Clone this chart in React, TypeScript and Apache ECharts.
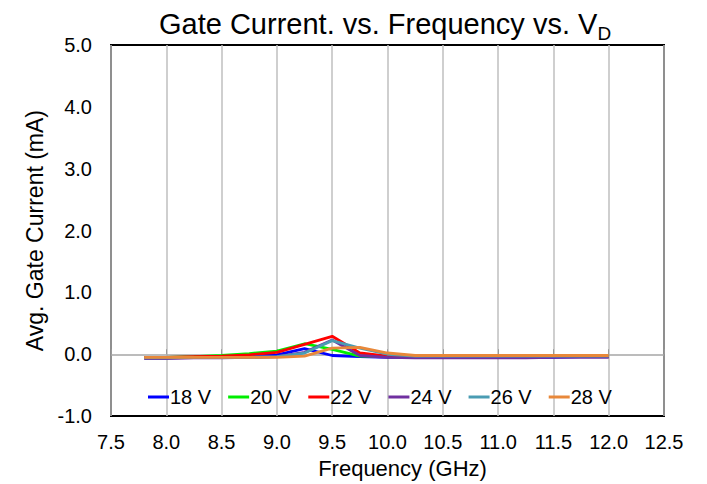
import React, { useEffect, useRef } from "react";
import * as echarts from "echarts";

const freqs = [7.8, 8.0, 8.25, 8.5, 8.75, 9.0, 9.25, 9.5, 9.75, 10.0, 10.25, 10.5, 10.75, 11.0, 11.25, 11.5, 11.75, 12.0];
const v18 = [-0.05, -0.05, -0.05, -0.04, -0.03, -0.01, 0.09, -0.02, -0.04, -0.05, -0.05, -0.05, -0.05, -0.05, -0.05, -0.05, -0.04, -0.04];
const v20 = [-0.05, -0.05, -0.04, -0.02, 0.01, 0.05, 0.17, 0.08, -0.03, -0.04, -0.05, -0.05, -0.04, -0.04, -0.04, -0.04, -0.03, -0.03];
const v22 = [-0.05, -0.05, -0.04, -0.03, -0.01, 0.03, 0.16, 0.29, 0.02, -0.03, -0.05, -0.05, -0.05, -0.05, -0.04, -0.04, -0.04, -0.04];
const v24 = [-0.07, -0.07, -0.06, -0.06, -0.05, -0.04, 0.03, 0.23, -0.02, -0.05, -0.06, -0.06, -0.06, -0.06, -0.06, -0.05, -0.05, -0.05];
const v26 = [-0.06, -0.06, -0.05, -0.05, -0.05, -0.04, 0.02, 0.22, 0.1, 0.0, -0.03, -0.03, -0.03, -0.03, -0.03, -0.03, -0.03, -0.03];
const v28 = [-0.05, -0.05, -0.05, -0.05, -0.05, -0.05, -0.03, 0.1, 0.11, 0.02, -0.02, -0.02, -0.02, -0.02, -0.02, -0.02, -0.02, -0.02];

const seriesNames = ["18 V", "20 V", "22 V", "24 V", "26 V", "28 V"];
const seriesData = [v18, v20, v22, v24, v26, v28];
const colors = ["#0000FF", "#00EE00", "#FF0000", "#7030A0", "#4A9CB3", "#E8883A"];

export default function App() {
  const ref = useRef<HTMLDivElement>(null);
  useEffect(() => {
    if (!ref.current) return;
    const chart = echarts.init(ref.current, undefined, { renderer: "svg" });
    const font = "'Liberation Sans', Arial, sans-serif";
    chart.setOption({
      animation: false,
      textStyle: { fontFamily: font },
      title: {
        text: "{a|Gate Current. vs. Frequency vs. V}{s|D}",
        left: 159,
        top: 2,
        padding: 0,
        textStyle: {
          fontWeight: "normal",
          rich: {
            a: { fontSize: 29, fontWeight: "normal", fontFamily: font, color: "#000", lineHeight: 36, verticalAlign: "bottom" },
            s: { fontSize: 19, fontWeight: "normal", fontFamily: font, color: "#000", lineHeight: 36, verticalAlign: "bottom", padding: [0, 0, -5, 0] },
          },
        },
      },
      legend: {
        top: 382,
        left: 143,
        itemWidth: 21,
        itemHeight: 3,
        itemGap: 17,
        icon: "rect",
        textStyle: { fontSize: 20, fontFamily: font, color: "#000", padding: [0, 0, 0, -4] },
        data: seriesNames,
      },
      grid: { left: 111, right: 43, top: 45, bottom: 67, show: true, borderColor: "#000", borderWidth: 2, backgroundColor: "transparent" },
      xAxis: {
        type: "value",
        min: 7.5,
        max: 12.5,
        interval: 0.5,
        name: "Frequency (GHz)",
        nameLocation: "middle",
        nameGap: 38,
        nameTextStyle: { fontSize: 22, color: "#000", fontFamily: font, padding: [0, 0, 0, 30] },
        axisLine: { show: false },
        axisTick: { show: true, inside: true, length: 5, lineStyle: { color: "#999" } },
        axisLabel: { fontSize: 20, color: "#000", margin: 16, fontFamily: font, formatter: (v: number) => v.toFixed(1) },
        splitLine: { show: true, lineStyle: { color: "#BFBFBF", width: 1.5 } },
      },
      yAxis: {
        type: "value",
        min: -1,
        max: 5,
        interval: 1,
        name: "Avg. Gate Current (mA)",
        nameLocation: "middle",
        nameGap: 63,
        nameTextStyle: { fontSize: 23, color: "#000", fontFamily: font },
        axisLine: { show: false },
        axisTick: { show: false },
        axisLabel: { fontSize: 20, color: "#000", margin: 19, fontFamily: font, formatter: (v: number) => v.toFixed(1) },
        splitLine: { show: false },
      },
      series: seriesNames.map((name, i) => ({
        name,
        type: "line",
        data: freqs.map((f, j) => [f, seriesData[i][j]]),
        symbol: "none",
        lineStyle: { width: 2.8, color: colors[i] },
        itemStyle: { color: colors[i] },
        z: 3 + i,
        ...(i === 0
          ? {
              markLine: {
                silent: true,
                symbol: "none",
                label: { show: false },
                lineStyle: { color: "#A6A6A6", width: 1.5, type: "solid" },
                data: [{ yAxis: 0 }],
                z: 1,
              },
            }
          : {}),
      })),
    });
    return () => chart.dispose();
  }, []);
  return <div ref={ref} style={{ position: "fixed", left: 0, top: 0, width: 707, height: 484, background: "#fff" }} />;
}
